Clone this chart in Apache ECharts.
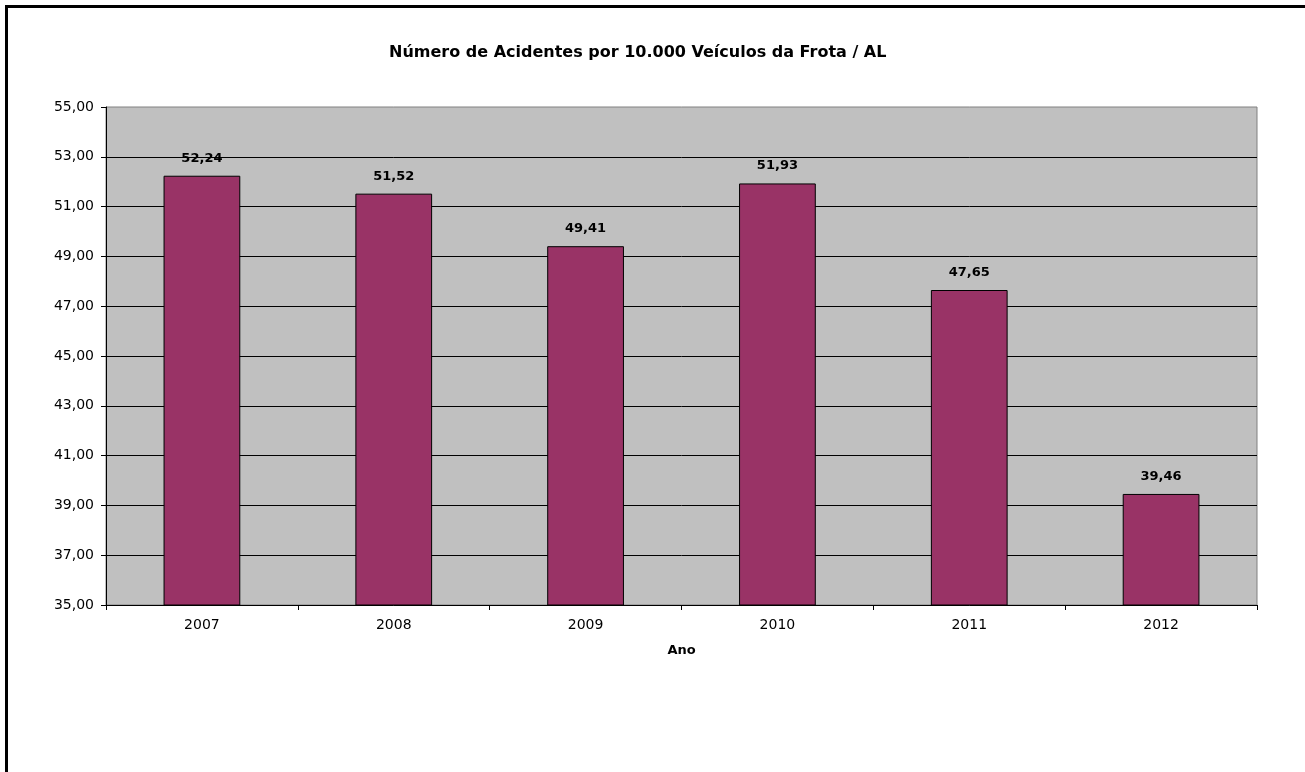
<!DOCTYPE html>
<html>
<head>
<meta charset="utf-8">
<script src="https://cdn.jsdelivr.net/npm/echarts@6/dist/echarts.min.js"></script>
<style>
  html, body { margin: 0; padding: 0; background: #fff; }
  #chart { width: 1305px; height: 772px; }
</style>
</head>
<body>
<div id="chart"></div>
<script>
// Accident rate per 10,000 fleet vehicles, Alagoas
const years = ['2007', '2008', '2009', '2010', '2011', '2012'];
const accidentRate = [52.24, 51.52, 49.41, 51.93, 47.65, 39.46];
const yMin = 35;
const yMax = 55;
const yStep = 2;

const fmt = v => v.toFixed(2).replace('.', ',');
const fontFamily = '"DejaVu Sans", Verdana, sans-serif';

const chart = echarts.init(document.getElementById('chart'), null, { renderer: 'canvas' });
chart.setOption({
  animation: false,
  backgroundColor: '#ffffff',
  textStyle: { fontFamily: fontFamily },
  title: {
    text: 'Número de Acidentes por 10.000 Veículos da Frota / AL',
    left: 384,
    top: 40,
    textStyle: { fontFamily: fontFamily, fontSize: 16, fontWeight: 'bold', color: '#000' }
  },
  // outer frame of the chart area
  graphic: [{
    type: 'rect',
    shape: { x: 6.5, y: 6.5, width: 2000, height: 2000 },
    style: { fill: 'none', stroke: '#000', lineWidth: 3 },
    silent: true
  }],
  grid: {
    left: 106,
    right: 48,
    top: 107,
    bottom: 167,
    show: true,
    backgroundColor: '#C0C0C0',
    borderColor: '#808080',
    borderWidth: 1
  },
  xAxis: {
    type: 'category',
    data: years,
    name: 'Ano',
    nameLocation: 'middle',
    nameGap: 39,
    nameTextStyle: { fontFamily: fontFamily, fontSize: 13, fontWeight: 'bold', color: '#000' },
    axisLine: { lineStyle: { color: '#000', width: 1 } },
    axisTick: { show: true, alignWithLabel: false, length: 5, lineStyle: { color: '#000' } },
    axisLabel: { fontFamily: fontFamily, fontSize: 14, color: '#000', margin: 13 },
    splitLine: { show: false }
  },
  yAxis: {
    type: 'value',
    min: yMin,
    max: yMax,
    interval: yStep,
    axisLine: { show: true, lineStyle: { color: '#000', width: 1 } },
    axisTick: { show: true, length: 5, lineStyle: { color: '#000' } },
    axisLabel: {
      fontFamily: fontFamily, fontSize: 14, color: '#000', margin: 12,
      formatter: v => fmt(v)
    },
    splitLine: {
      show: true,
      showMinLine: false,
      showMaxLine: false,
      lineStyle: { color: '#000', width: 1 }
    }
  },
  series: [{
    type: 'bar',
    data: accidentRate,
    barWidth: '40%',
    itemStyle: { color: '#993366', borderColor: '#000', borderWidth: 1 },
    label: {
      show: true,
      position: 'top',
      distance: 11,
      fontFamily: fontFamily,
      fontSize: 13,
      fontWeight: 'bold',
      color: '#000',
      formatter: p => fmt(p.value)
    }
  }]
});
</script>
</body>
</html>
